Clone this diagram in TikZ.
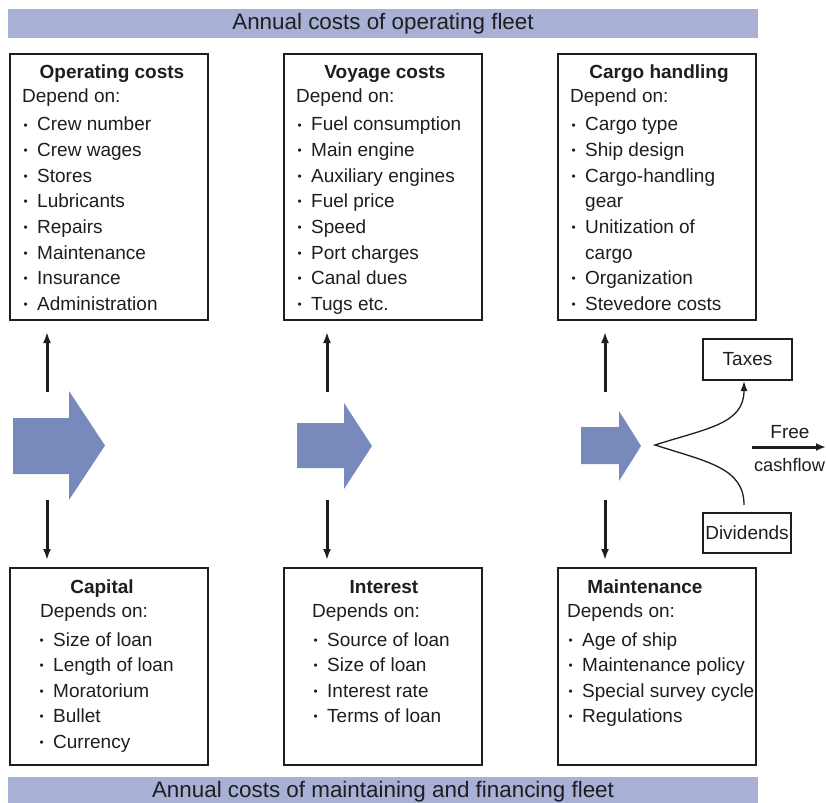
\documentclass[tikz,border=0pt]{standalone}
\usepackage{fontspec}
\setmainfont{Liberation Sans}
\usetikzlibrary{arrows.meta,calc}
\definecolor{bannerblue}{RGB}{168,177,213}
\definecolor{arrowblue}{RGB}{120,137,188}
\definecolor{ink}{RGB}{30,30,30}
\tikzset{
  banner/.style={fill=bannerblue, draw=none, inner sep=0pt, minimum width=750pt, minimum height=29pt, font=\fontsize{22.4}{24}\selectfont, text=ink},
  costbox/.style={draw=ink, line width=1.5pt, fill=white, inner sep=0pt, minimum width=198pt},
  smallbox/.style={draw=ink, line width=1.2pt, inner sep=0pt, font=\fontsize{19}{22}\selectfont, text=ink},
  txt/.style={inner sep=0pt, anchor=base west, font=\fontsize{19}{22}\selectfont, text=ink},
  ttl/.style={inner sep=0pt, anchor=base, font=\fontsize{19}{22}\selectfont\bfseries, text=ink},
  bigarrow/.style={fill=arrowblue, draw=none},
  vline/.style={draw=ink, line width=3pt, -{Latex[length=11pt,width=8pt]}},
  fork/.style={draw=ink, line width=1.3pt, -{Latex[length=10pt,width=7pt]}},
}
\newcommand{\bul}{\makebox[15pt][l]{\hspace{1.5pt}\raisebox{1.8pt}{\scalebox{0.62}{\textbullet}}}}
\newcommand{\ind}{\hspace{15pt}}
\begin{document}
\begin{tikzpicture}[x=1pt,y=-1pt]
\useasboundingbox (0,0) rectangle (826,802);
\fill[white] (0,0) rectangle (826,802);

% banners
\node[banner] (topbanner) at (383,23.5) {Annual costs of operating fleet};
\node[banner] (botbanner) at (383,791.5) {Annual costs of maintaining and financing fleet};

% top boxes
\node[costbox, minimum height=266pt] (oc) at (109,187) {};
\node[costbox, minimum height=266pt] (vc) at (383,187) {};
\node[costbox, minimum height=266pt] (ch) at (657,187) {};
% bottom boxes
\node[costbox, minimum height=197pt] (cap) at (109,666.5) {};
\node[costbox, minimum height=197pt] (int) at (383,666.5) {};
\node[costbox, minimum height=197pt] (mnt) at (657,666.5) {};

% operating costs
\node[ttl] (oc-t) at (112,79) {Operating costs};
\node[txt] (oc-d) at (22,103) {Depend on:};
\foreach \t [count=\k from 0] in {Crew number, Crew wages, Stores, Lubricants, Repairs, Maintenance, Insurance, Administration}
  \node[txt] (oc-\k) at (22,131+25.6*\k) {\bul\t};

% voyage costs
\node[ttl] (vc-t) at (385,79) {Voyage costs};
\node[txt] (vc-d) at (296,103) {Depend on:};
\foreach \t [count=\k from 0] in {Fuel consumption, Main engine, Auxiliary engines, Fuel price, Speed, Port charges, Canal dues, Tugs etc.}
  \node[txt] (vc-\k) at (296,131+25.6*\k) {\bul\t};

% cargo handling
\node[ttl] (ch-t) at (659,79) {Cargo handling};
\node[txt] (ch-d) at (570,103) {Depend on:};
\foreach \t [count=\k from 0] in {\bul Cargo type, \bul Ship design, \bul Cargo-handling, \ind gear, \bul Unitization of, \ind cargo, \bul Organization, \bul Stevedore costs}
  \node[txt] (ch-\k) at (570,131+25.6*\k) {\t};

% capital
\node[ttl] (cap-t) at (102,593) {Capital};
\node[txt] (cap-d) at (40,617) {Depends on:};
\foreach \t [count=\k from 0] in {Size of loan, Length of loan, Moratorium, Bullet, Currency}
  \node[txt] (cap-\k) at (38,646+25.5*\k) {\bul\t};

% interest
\node[ttl] (int-t) at (384,593) {Interest};
\node[txt] (int-d) at (312,617) {Depends on:};
\foreach \t [count=\k from 0] in {Source of loan, Size of loan, Interest rate, Terms of loan}
  \node[txt] (int-\k) at (312,646+25.5*\k) {\bul\t};

% maintenance
\node[ttl] (mnt-t) at (645,593) {Maintenance};
\node[txt] (mnt-d) at (567,617) {Depends on:};
\foreach \t [count=\k from 0] in {Age of ship, Maintenance policy, Special survey cycle, Regulations}
  \node[txt] (mnt-\k) at (567,646+25.5*\k) {\bul\t};

% big arrows
\fill[bigarrow] (13,418) -- (69,418) -- (69,391) -- (105,445.5) -- (69,500) -- (69,474) -- (13,474) -- cycle;
\fill[bigarrow] (297,423) -- (344,423) -- (344,403) -- (372,446) -- (344,489) -- (344,468) -- (297,468) -- cycle;
\fill[bigarrow] (581,427) -- (619,427) -- (619,411) -- (641,446) -- (619,481) -- (619,464) -- (581,464) -- cycle;

% vertical arrows
\foreach \n/\x in {1/47,2/327,3/605}{
  \coordinate (up\n-s) at (\x,392);
  \coordinate (up\n-e) at (\x,332);
  \coordinate (dn\n-s) at (\x,500);
  \coordinate (dn\n-e) at (\x,560);
  \draw[vline] (up\n-s) -- (up\n-e);
  \draw[vline] (dn\n-s) -- (dn\n-e);
}

% taxes / dividends
\node[smallbox, minimum width=89pt, minimum height=41pt] (taxes) at (747.5,359.5) {Taxes};
\node[smallbox, minimum width=88pt, minimum height=40pt] (divs) at (747,533) {Dividends};
\coordinate (tip) at (655,445);
\coordinate (divtop) at (744,505);
\coordinate (taxbot) at (744,381);
\draw[fork] (divtop) .. controls (744,468) and (708,462) .. (tip)
               .. controls (708,428) and (744,424) .. (taxbot);

% free cashflow
\coordinate (fcs) at (752,447);
\coordinate (fce) at (826,447);
\draw[draw=ink, line width=3pt, -{Latex[length=10pt,width=8pt]}] (fcs) -- (fce);
\node[inner sep=0pt, font=\fontsize{19}{22}\selectfont, text=ink] (free) at (790,432) {Free};
\node[inner sep=0pt, font=\fontsize{18.2}{22}\selectfont, text=ink] (cash) at (789.5,465) {cashflow};
\end{tikzpicture}
\end{document}
